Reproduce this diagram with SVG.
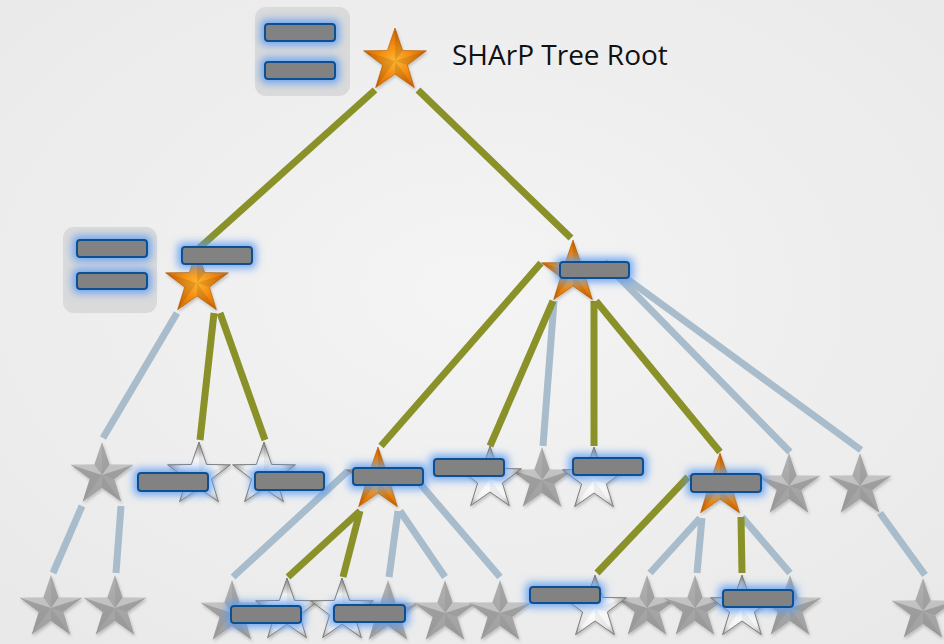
<svg xmlns="http://www.w3.org/2000/svg" xmlns:xlink="http://www.w3.org/1999/xlink" width="944" height="644" viewBox="0 0 944 644">
  <defs>
    <style>
      .on { stroke: #8a9129; stroke-width: 7; fill: none; }
      .off { stroke: #a8bccb; stroke-width: 7; fill: none; }
      .tray { fill: #dadada; }
      .box { fill: #828282; stroke: #0f4f91; stroke-width: 2; filter: url(#glow); }
      .gray { fill: url(#gGray); filter: url(#shadow); }
      .silver { fill: url(#gSilver); stroke: #7d7d7d; stroke-width: 1; filter: url(#shadow); }
      .gold { fill: url(#gGold); stroke: #b35a00; stroke-width: 0.6; filter: url(#shadow); }
      .dark { fill: #000; opacity: 0.1; }
      .soft { fill: #000; opacity: 0.05; }
      .light { fill: #fff; opacity: 0.3; }
      .label { font-family: "Open Sans", "Liberation Sans", sans-serif; font-size: 28px; fill: #111; }
    </style>
    <radialGradient id="bg" cx="50%" cy="45%" r="70%">
      <stop offset="0" stop-color="#f4f4f4"/>
      <stop offset="1" stop-color="#e9e9e9"/>
    </radialGradient>
    <linearGradient id="gGray" x1="0" y1="0" x2="0" y2="1">
      <stop offset="0" stop-color="#b0b0b0"/>
      <stop offset="0.45" stop-color="#a8a8a8"/>
      <stop offset="1" stop-color="#a0a0a0"/>
    </linearGradient>
    <radialGradient id="gSilver" cx="50%" cy="60%" r="55%">
      <stop offset="0" stop-color="#fff"/>
      <stop offset="0.6" stop-color="#f2f2f2"/>
      <stop offset="1" stop-color="#969696"/>
    </radialGradient>
    <radialGradient id="gGold" cx="50%" cy="55%" r="55%">
      <stop offset="0" stop-color="#ffb530"/>
      <stop offset="0.5" stop-color="#f28a10"/>
      <stop offset="1" stop-color="#d06300"/>
    </radialGradient>
    <filter id="glow" x="-40%" y="-120%" width="180%" height="340%">
      <feMorphology in="SourceAlpha" operator="dilate" radius="3" result="d"/>
      <feGaussianBlur in="d" stdDeviation="4" result="b"/>
      <feFlood flood-color="#5a9bf2" flood-opacity="0.9"/>
      <feComposite in2="b" operator="in" result="g"/>
      <feMerge><feMergeNode in="g"/><feMergeNode in="SourceGraphic"/></feMerge>
    </filter>
    <filter id="shadow" x="-20%" y="-20%" width="140%" height="140%">
      <feDropShadow dx="1" dy="2" stdDeviation="1.5" flood-color="#000" flood-opacity="0.2"/>
    </filter>
    <!-- five-pointed star, outer radius 33 -->
    <polygon id="star" points="0,-33 7.64,-10.52 31.39,-10.2 12.36,4.02 19.4,26.7 0,13 -19.4,26.7 -12.36,4.02 -31.39,-10.2 -7.64,-10.52"/>
    <path id="shade" d="M0,0 L0,-33 L7.64,-10.52Z M0,0 L31.39,-10.2 L12.36,4.02Z M0,0 L-31.39,-10.2 L-12.36,4.02Z M0,0 L19.4,26.7 L0,13Z M0,0 L-19.4,26.7 L-12.36,4.02Z"/>
    <path id="shine" d="M0,0 L7.64,-10.52 L31.39,-10.2Z M0,0 L-7.64,-10.52 L-31.39,-10.2Z"/>
  </defs>

  <rect width="944" height="644" fill="url(#bg)"/>

  <!-- tree links: olive = aggregation path, blue-grey = unused -->
  <g id="connectors">
    <path class="off" d="M177,313 L103,438"/>
    <path class="off" d="M82,506 L53,573"/>
    <path class="off" d="M121,506 L116,573"/>
    <path class="off" d="M554,301 L543,446"/>
    <path class="off" d="M604,262 L790,452"/>
    <path class="off" d="M604,262 L861,450"/>
    <path class="off" d="M348,471 L233,577"/>
    <path class="off" d="M398,511 L389,577"/>
    <path class="off" d="M400,511 L445,577"/>
    <path class="off" d="M410,472 L500,577"/>
    <path class="off" d="M700,518 L650,573"/>
    <path class="off" d="M702,518 L697,573"/>
    <path class="off" d="M742,517 L790,573"/>
    <path class="off" d="M880,513 L925,575"/>

    <path class="on" d="M375,90 L197,250"/>
    <path class="on" d="M418,90 L571,238"/>
    <path class="on" d="M214,313 L200,440"/>
    <path class="on" d="M220,313 L265,440"/>
    <path class="on" d="M541,263 L381,446"/>
    <path class="on" d="M553,301 L490,446"/>
    <path class="on" d="M594,301 L594,446"/>
    <path class="on" d="M596,301 L720,452"/>
    <path class="on" d="M360,511 L288,577"/>
    <path class="on" d="M360,511 L343,577"/>
    <path class="on" d="M688,477 L597,573"/>
    <path class="on" d="M741,517 L742,573"/>
  </g>

  <!-- idle switches -->
  <g id="node-a"><use href="#star" x="102" y="475" class="gray"/><use href="#shade" x="102" y="475" class="soft"/><use href="#shine" x="102" y="475" class="light"/></g>
  <g id="node-f"><use href="#star" x="542" y="480" class="gray"/><use href="#shade" x="542" y="480" class="soft"/><use href="#shine" x="542" y="480" class="light"/></g>
  <g id="node-i"><use href="#star" x="789" y="486" class="gray"/><use href="#shade" x="789" y="486" class="soft"/><use href="#shine" x="789" y="486" class="light"/></g>
  <g id="node-j"><use href="#star" x="860" y="486" class="gray"/><use href="#shade" x="860" y="486" class="soft"/><use href="#shine" x="860" y="486" class="light"/></g>
  <g id="leaf-1"><use href="#star" x="51" y="608" class="gray"/><use href="#shade" x="51" y="608" class="soft"/><use href="#shine" x="51" y="608" class="light"/></g>
  <g id="leaf-2"><use href="#star" x="115" y="608" class="gray"/><use href="#shade" x="115" y="608" class="soft"/><use href="#shine" x="115" y="608" class="light"/></g>
  <g id="leaf-3"><use href="#star" x="232" y="613" class="gray"/><use href="#shade" x="232" y="613" class="soft"/><use href="#shine" x="232" y="613" class="light"/></g>
  <g id="leaf-6"><use href="#star" x="388" y="613" class="gray"/><use href="#shade" x="388" y="613" class="soft"/><use href="#shine" x="388" y="613" class="light"/></g>
  <g id="leaf-7"><use href="#star" x="445" y="613" class="gray"/><use href="#shade" x="445" y="613" class="soft"/><use href="#shine" x="445" y="613" class="light"/></g>
  <g id="leaf-8"><use href="#star" x="500" y="613" class="gray"/><use href="#shade" x="500" y="613" class="soft"/><use href="#shine" x="500" y="613" class="light"/></g>
  <g id="leaf-10"><use href="#star" x="647" y="608" class="gray"/><use href="#shade" x="647" y="608" class="soft"/><use href="#shine" x="647" y="608" class="light"/></g>
  <g id="leaf-11"><use href="#star" x="695" y="608" class="gray"/><use href="#shade" x="695" y="608" class="soft"/><use href="#shine" x="695" y="608" class="light"/></g>
  <g id="leaf-13"><use href="#star" x="790" y="608" class="gray"/><use href="#shade" x="790" y="608" class="soft"/><use href="#shine" x="790" y="608" class="light"/></g>
  <g id="leaf-14"><use href="#star" x="923" y="611" class="gray"/><use href="#shade" x="923" y="611" class="soft"/><use href="#shine" x="923" y="611" class="light"/></g>

  <!-- root aggregation node -->
  <g id="root">
    <rect class="tray" x="255" y="7" width="95" height="89" rx="11"/>
    <rect class="box" x="265" y="24" width="70" height="17" rx="3"/>
    <rect class="box" x="265" y="62" width="70" height="17" rx="3"/>
    <use href="#star" x="395" y="61" class="gold"/><use href="#shade" x="395" y="61" class="dark"/>
    <text class="label" x="452" y="65">SHArP Tree Root</text>
  </g>

  <g id="node-left">
    <rect class="tray" x="63" y="227" width="94" height="86" rx="11"/>
    <rect class="box" x="77" y="240" width="70" height="17" rx="3"/>
    <rect class="box" x="77" y="273" width="70" height="16" rx="3"/>
    <use href="#star" x="197" y="283" class="gold"/><use href="#shade" x="197" y="283" class="dark"/>
    <rect class="box" x="182" y="247" width="70" height="17" rx="3"/>
  </g>

  <g id="node-right">
    <use href="#star" x="573" y="273" class="gold"/><use href="#shade" x="573" y="273" class="dark"/>
    <rect class="box" x="560" y="262" width="69" height="16" rx="3"/>
  </g>

  <!-- second level -->
  <g id="node-b">
    <use href="#star" x="199" y="475" class="silver"/><use href="#shade" x="199" y="475" class="soft"/>
    <rect class="box" x="138" y="473" width="70" height="18" rx="3"/>
  </g>
  <g id="node-c">
    <use href="#star" x="264" y="475" class="silver"/><use href="#shade" x="264" y="475" class="soft"/>
    <rect class="box" x="255" y="472" width="69" height="18" rx="3"/>
  </g>
  <g id="node-d">
    <use href="#star" x="378" y="480" class="gold"/><use href="#shade" x="378" y="480" class="dark"/>
    <rect class="box" x="353" y="468" width="70" height="17" rx="3"/>
  </g>
  <g id="node-e">
    <use href="#star" x="490" y="479" class="silver"/><use href="#shade" x="490" y="479" class="soft"/>
    <rect class="box" x="434" y="459" width="70" height="17" rx="3"/>
  </g>
  <g id="node-g">
    <use href="#star" x="594" y="480" class="silver"/><use href="#shade" x="594" y="480" class="soft"/>
    <rect class="box" x="573" y="458" width="70" height="17" rx="3"/>
  </g>
  <g id="node-h">
    <use href="#star" x="720" y="486" class="gold"/><use href="#shade" x="720" y="486" class="dark"/>
    <rect class="box" x="691" y="474" width="70" height="18" rx="3"/>
  </g>

  <!-- leaves taking part -->
  <g id="leaf-4">
    <use href="#star" x="287" y="611" class="silver"/><use href="#shade" x="287" y="611" class="soft"/>
    <rect class="box" x="231" y="606" width="70" height="17" rx="3"/>
  </g>
  <g id="leaf-5">
    <use href="#star" x="342" y="611" class="silver"/><use href="#shade" x="342" y="611" class="soft"/>
    <rect class="box" x="334" y="605" width="71" height="17" rx="3"/>
  </g>
  <g id="leaf-9">
    <use href="#star" x="595" y="608" class="silver"/><use href="#shade" x="595" y="608" class="soft"/>
    <rect class="box" x="530" y="587" width="70" height="16" rx="3"/>
  </g>
  <g id="leaf-12">
    <use href="#star" x="742" y="608" class="silver"/><use href="#shade" x="742" y="608" class="soft"/>
    <rect class="box" x="723" y="590" width="70" height="17" rx="3"/>
  </g>
</svg>
